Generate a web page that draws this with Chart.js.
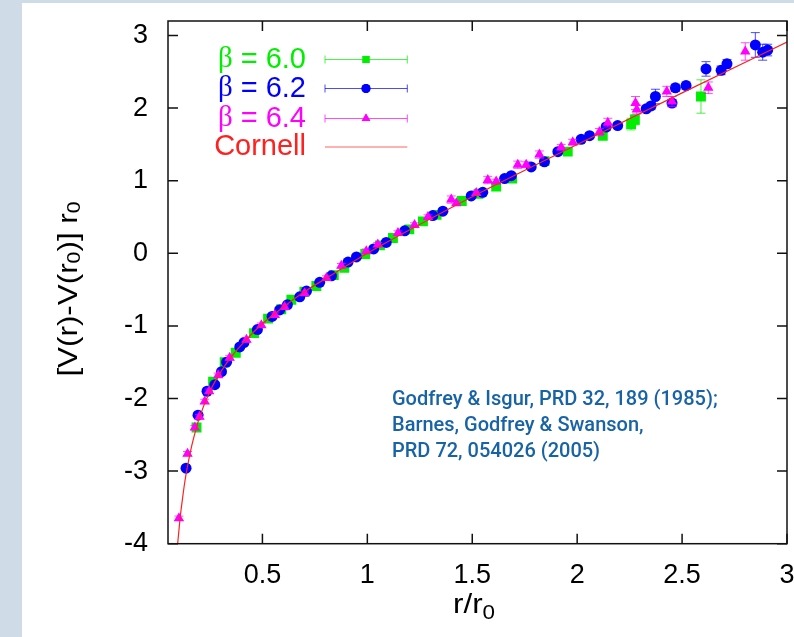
<!DOCTYPE html>
<html>
<head>
<meta charset="utf-8">
<script src="https://cdn.jsdelivr.net/npm/chart.js@4.4.1/dist/chart.umd.min.js"></script>
<style>
  body { margin: 0; background: #cfdbe6; }
  #wrap { position: absolute; left: 22px; top: 3px; width: 772px; height: 634px; background: #fff; }
</style>
</head>
<body>
<div id="wrap"><canvas id="c" width="772" height="634"></canvas></div>
<script>
// beta = 6.0
const r60 = [0.186, 0.265, 0.32, 0.373, 0.46, 0.527, 0.59, 0.638, 0.70, 0.757, 0.84, 0.89, 0.99, 1.06, 1.122, 1.20, 1.265, 1.33, 1.45, 1.53, 1.614, 1.69, 1.844, 1.955, 2.122, 2.257, 2.275, 2.59];
const v60 = [-2.40, -1.77, -1.50, -1.37, -1.10, -0.90, -0.77, -0.64, -0.53, -0.45, -0.30, -0.20, -0.01, 0.11, 0.21, 0.33, 0.44, 0.53, 0.72, 0.82, 0.92, 1.03, 1.27, 1.40, 1.62, 1.78, 1.84, 2.16];
const e60 = [0.03, 0.02, 0.02, 0.02, 0.02, 0.02, 0.02, 0.02, 0.02, 0.02, 0.02, 0.02, 0.02, 0.02, 0.02, 0.02, 0.02, 0.03, 0.03, 0.03, 0.03, 0.03, 0.03, 0.04, 0.05, 0.08, 0.07, 0.23];

// beta = 6.2
const r62 = [0.136, 0.193, 0.236, 0.273, 0.305, 0.329, 0.392, 0.412, 0.476, 0.546, 0.582, 0.619, 0.678, 0.71, 0.773, 0.829, 0.908, 0.948, 1.03, 1.09, 1.178, 1.312, 1.36, 1.495, 1.55, 1.654, 1.686, 1.781, 1.844, 1.908, 2.019, 2.059, 2.138, 2.193, 2.329, 2.352, 2.373, 2.452, 2.468, 2.519, 2.614, 2.686, 2.714, 2.849, 2.884, 2.908];
const v62 = [-2.96, -2.23, -1.90, -1.81, -1.63, -1.50, -1.29, -1.23, -1.05, -0.87, -0.78, -0.71, -0.60, -0.52, -0.40, -0.31, -0.12, -0.05, 0.06, 0.15, 0.31, 0.52, 0.58, 0.79, 0.84, 1.03, 1.07, 1.19, 1.26, 1.40, 1.57, 1.62, 1.74, 1.76, 1.99, 2.03, 2.16, 2.07, 2.28, 2.31, 2.54, 2.52, 2.61, 2.87, 2.77, 2.80];
const e62 = [0.02, 0.02, 0.02, 0.02, 0.02, 0.02, 0.02, 0.02, 0.02, 0.02, 0.02, 0.02, 0.02, 0.02, 0.02, 0.02, 0.02, 0.02, 0.02, 0.02, 0.02, 0.02, 0.02, 0.02, 0.02, 0.02, 0.02, 0.03, 0.03, 0.03, 0.04, 0.04, 0.05, 0.04, 0.04, 0.05, 0.10, 0.05, 0.05, 0.05, 0.10, 0.06, 0.06, 0.17, 0.11, 0.08];

// beta = 6.4
const r64 = [0.102, 0.143, 0.178, 0.20, 0.225, 0.246, 0.289, 0.344, 0.424, 0.495, 0.559, 0.606, 0.701, 0.805, 0.876, 0.995, 1.05, 1.146, 1.225, 1.289, 1.40, 1.424, 1.519, 1.574, 1.614, 1.717, 1.757, 1.82, 1.924, 1.979, 2.106, 2.146, 2.278, 2.284, 2.427, 2.452, 2.625, 2.801];
const v64 = [-3.65, -2.76, -2.40, -2.25, -2.04, -1.90, -1.68, -1.44, -1.19, -0.99, -0.85, -0.74, -0.55, -0.34, -0.17, 0.03, 0.12, 0.28, 0.39, 0.50, 0.74, 0.69, 0.83, 1.01, 0.99, 1.22, 1.22, 1.36, 1.46, 1.53, 1.67, 1.80, 2.07, 1.98, 2.23, 2.09, 2.28, 2.78];
const e64 = [0.03, 0.03, 0.03, 0.03, 0.03, 0.03, 0.03, 0.03, 0.03, 0.03, 0.03, 0.03, 0.03, 0.03, 0.03, 0.03, 0.03, 0.03, 0.03, 0.03, 0.05, 0.03, 0.03, 0.05, 0.03, 0.05, 0.04, 0.05, 0.04, 0.04, 0.05, 0.06, 0.09, 0.06, 0.07, 0.07, 0.08, 0.12];

// Cornell curve
const cornellR = [0.096, 0.11, 0.12, 0.13, 0.14, 0.16, 0.18, 0.2, 0.25, 0.3, 0.35, 0.4, 0.5, 0.6, 0.7, 0.8, 1.0, 1.2, 1.5, 2.0, 2.5, 3.0];
const cornellV = [-4.0, -3.59, -3.36, -3.15, -2.98, -2.69, -2.46, -2.26, -1.90, -1.64, -1.43, -1.26, -0.97, -0.74, -0.53, -0.35, 0, 0.32, 0.78, 1.50, 2.21, 2.91];

const xTicks = [0.5, 1, 1.5, 2, 2.5, 3];
const yTicks = [-4, -3, -2, -1, 0, 1, 2, 3];
const legendNames = ['6.0', '6.2', '6.4', 'Cornell'];
const noteLines = ['Godfrey & Isgur, PRD 32, 189 (1985);', 'Barnes, Godfrey & Swanson,', 'PRD 72, 054026 (2005)'];

const GREEN = '#00ee00', BLUE = '#0000ff', MAG = '#ff00ff', RED = '#ff2020';
const pts = (xs, ys) => xs.map((x, i) => ({ x: x, y: ys[i] }));

const errPlugin = {
  id: 'errbars',
  beforeDatasetDraw(chart, args) {
    const ds = chart.data.datasets[args.index];
    if (!ds.errors) return;
    const xs = chart.scales.x, ys = chart.scales.y, ctx = chart.ctx;
    ctx.save();
    ctx.strokeStyle = ds.errColor;
    ctx.lineWidth = 1;
    ds.data.forEach((p, i) => {
      const px = xs.getPixelForValue(p.x);
      const y1 = ys.getPixelForValue(p.y + ds.errors[i]);
      const y2 = ys.getPixelForValue(p.y - ds.errors[i]);
      ctx.beginPath();
      ctx.moveTo(px, y1); ctx.lineTo(px, y2);
      ctx.moveTo(px - 4.5, y1); ctx.lineTo(px + 4.5, y1);
      ctx.moveTo(px - 4.5, y2); ctx.lineTo(px + 4.5, y2);
      ctx.stroke();
    });
    ctx.restore();
  }
};

function drawParts(ctx, parts) {
  // parts: [text, size, dy], drawn centred on 0
  let total = 0;
  parts.forEach(p => { ctx.font = p[1] + 'px "Liberation Sans"'; total += ctx.measureText(p[0]).width; });
  let x = -total / 2;
  parts.forEach(p => {
    ctx.font = p[1] + 'px "Liberation Sans"';
    ctx.fillText(p[0], x, p[2]);
    x += ctx.measureText(p[0]).width;
  });
}

const decorPlugin = {
  id: 'decor',
  afterDraw(chart) {
    const ctx = chart.ctx, a = chart.chartArea;
    const xs = chart.scales.x, ys = chart.scales.y;
    ctx.save();
    // frame and inward ticks
    ctx.strokeStyle = '#111';
    ctx.lineWidth = 1.5;
    ctx.strokeRect(a.left, a.top, a.right - a.left, a.bottom - a.top);
    ctx.beginPath();
    xTicks.forEach(v => {
      const px = xs.getPixelForValue(v);
      ctx.moveTo(px, a.bottom); ctx.lineTo(px, a.bottom - 10);
      ctx.moveTo(px, a.top); ctx.lineTo(px, a.top + 10);
    });
    yTicks.forEach(v => {
      const py = ys.getPixelForValue(v);
      ctx.moveTo(a.left, py); ctx.lineTo(a.left + 10, py);
      ctx.moveTo(a.right, py); ctx.lineTo(a.right - 10, py);
    });
    ctx.stroke();

    // legend
    const cols = [GREEN, BLUE, MAG, RED];
    const styles = ['rect', 'circle', 'triangle', null];
    const rowY = [56.5, 85.5, 115.5, 144];
    const tx = 284, l0 = 303, l1 = 385.3, mx = 344;
    ctx.textBaseline = 'middle';
    ctx.textAlign = 'right';
    legendNames.forEach((name, i) => {
      const y = rowY[i];
      ctx.fillStyle = cols[i];
      if (i < 3) {
        const rest = ' = ' + name;
        ctx.font = '29px "Liberation Sans"';
        const w = ctx.measureText(rest).width;
        ctx.fillText(rest, tx, y);
        ctx.font = '29px "Liberation Serif"';
        ctx.fillText('\u03b2', tx - w, y);
      } else {
        ctx.font = '29px "Liberation Sans"';
        ctx.fillText(name, tx, y);
      }
      ctx.strokeStyle = cols[i];
      ctx.globalAlpha = 0.7;
      ctx.lineWidth = 1;
      ctx.beginPath();
      ctx.moveTo(l0, y); ctx.lineTo(l1, y);
      if (i < 3) {
        ctx.moveTo(l0, y - 4); ctx.lineTo(l0, y + 4);
        ctx.moveTo(l1, y - 4); ctx.lineTo(l1, y + 4);
      }
      ctx.stroke();
      ctx.globalAlpha = 1;
      if (styles[i]) {
        Chart.helpers.drawPoint(ctx, { pointStyle: styles[i], radius: i === 1 ? 4.5 : 5, rotation: 0, borderWidth: 0 }, mx, y);
        ctx.fillStyle = cols[i];
        ctx.fill();
      }
    });

    // note
    ctx.textAlign = 'left';
    ctx.textBaseline = 'alphabetic';
    ctx.fillStyle = '#1763a6';
    ctx.font = '500 20px Roboto';
    const noteW = [335, 270, 213];
    noteLines.forEach((t, i) => ctx.fillText(t, 370, 402 + i * 26, noteW[i]));

    // axis titles
    ctx.fillStyle = '#000';
    ctx.save();
    ctx.translate(452, 610);
    ctx.scale(1.12, 1);
    drawParts(ctx, [['r/r', 28, 0], ['0', 20, 6]]);
    ctx.restore();

    ctx.save();
    ctx.translate(55, 286);
    ctx.rotate(-Math.PI / 2);
    ctx.scale(1.12, 1);
    drawParts(ctx, [['[V(r)-V(r', 28, 0], ['0', 19, 3], [')] r', 28, 0], ['0', 19, 3]]);
    ctx.restore();
    ctx.restore();
  }
};

const tickFont = { family: 'Liberation Sans', size: 27 };

new Chart(document.getElementById('c'), {
  type: 'scatter',
  data: {
    datasets: [
      {
        label: 'Cornell', data: pts(cornellR, cornellV), showLine: true, order: 0,
        borderColor: RED, borderWidth: 1.2, pointRadius: 0, cubicInterpolationMode: 'monotone'
      },
      {
        label: '\u03b2 = 6.4', data: pts(r64, v64), errors: e64, errColor: 'rgba(255,0,255,0.7)', order: 1,
        pointStyle: 'triangle', pointRadius: 6, backgroundColor: MAG, borderColor: MAG, borderWidth: 0
      },
      {
        label: '\u03b2 = 6.2', data: pts(r62, v62), errors: e62, errColor: 'rgba(0,0,255,0.7)', order: 2,
        pointStyle: 'circle', pointRadius: 5.5, backgroundColor: BLUE, borderColor: BLUE, borderWidth: 0
      },
      {
        label: '\u03b2 = 6.0', data: pts(r60, v60), errors: e60, errColor: 'rgba(0,230,0,0.7)', order: 3,
        pointStyle: 'rect', pointRadius: 7, backgroundColor: GREEN, borderColor: GREEN, borderWidth: 0
      }
    ]
  },
  options: {
    responsive: false,
    animation: false,
    devicePixelRatio: 1,
    layout: { padding: { left: 0, top: 18, right: 6.5, bottom: 0 } },
    plugins: { legend: { display: false }, tooltip: { enabled: false } },
    scales: {
      x: {
        type: 'linear', min: 0.05, max: 3,
        grid: { display: false, drawTicks: false },
        border: { display: false },
        ticks: { font: tickFont, color: '#000', padding: 16, maxRotation: 0, autoSkip: false, callback: v => String(v) },
        afterBuildTicks: s => { s.ticks = xTicks.map(v => ({ value: v })); },
        afterFit: s => { s.height = 93.3; s.paddingLeft = 0; s.paddingRight = 0; }
      },
      y: {
        type: 'linear', min: -4, max: 3.2,
        grid: { display: false, drawTicks: false },
        border: { display: false },
        ticks: { font: tickFont, color: '#000', padding: 20, autoSkip: false, callback: v => String(v) },
        afterBuildTicks: s => { s.ticks = yTicks.map(v => ({ value: v })); },
        afterFit: s => { s.width = 146; s.paddingTop = 0; s.paddingBottom = 0; }
      }
    }
  },
  plugins: [errPlugin, decorPlugin]
});
</script>
</body>
</html>
